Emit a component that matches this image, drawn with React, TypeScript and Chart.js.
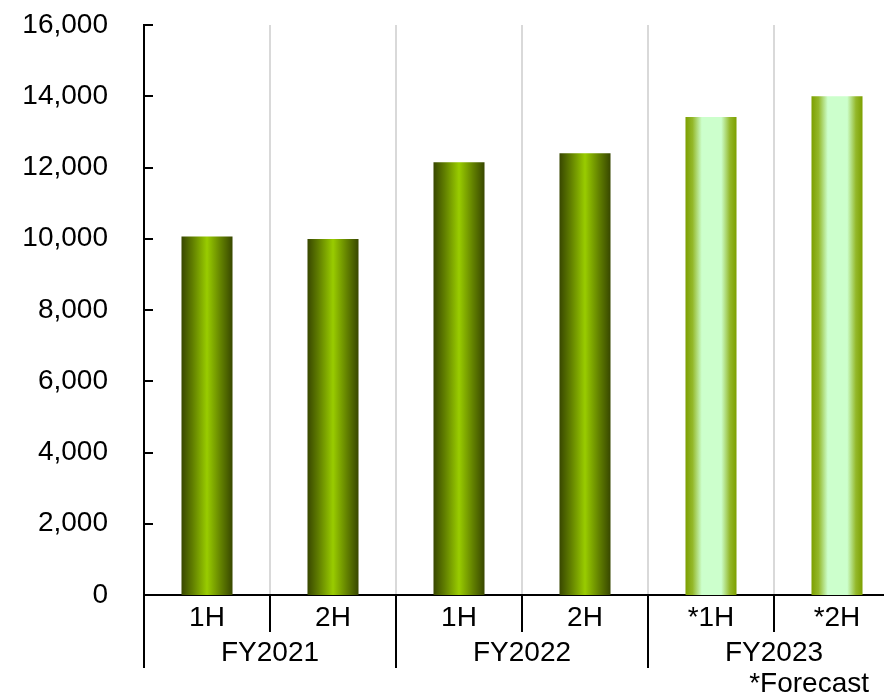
import React, { useEffect, useRef } from "react";
import { Chart, registerables } from "chart.js";

Chart.register(...registerables);

// Half-year categories, their fiscal-year groups and the plotted values
const halfLabels = ["1H", "2H", "1H", "2H", "*1H", "*2H"];
const yearLabels = ["FY2021", "FY2022", "FY2023"];
const netSales = [10060, 9990, 12150, 12400, 13420, 14000];
const isForecast = [false, false, false, false, true, true];
const footnote = "*Forecast";

const Y_MIN = 0;
const Y_MAX = 16000;
const Y_STEP = 2000;

const BAR_PCT = 0.405;
const FONT = '"Liberation Sans", Arial, sans-serif';

const actualStops: [number, string][] = [
  [0, "#384700"],
  [0.22, "#617f00"],
  [0.5, "#99cc00"],
  [0.78, "#617f00"],
  [1, "#384700"],
];
const forecastStops: [number, string][] = [
  [0, "#7c9f00"],
  [0.14, "#94b82a"],
  [0.32, "#ccffcc"],
  [0.7, "#ccffcc"],
  [0.87, "#94b82a"],
  [1, "#7c9f00"],
];

function barFill(ctx: any) {
  const chart = ctx.chart;
  const area = chart.chartArea;
  const xs = chart.scales && chart.scales.x;
  const i = ctx.dataIndex;
  if (!area || !xs || i === undefined) return "#99cc00";
  const cx = xs.getPixelForValue(i);
  const w = ((area.right - area.left) / halfLabels.length) * BAR_PCT;
  const g = chart.ctx.createLinearGradient(cx - w / 2, 0, cx + w / 2, 0);
  const stops = isForecast[i] ? forecastStops : actualStops;
  stops.forEach(([o, c]) => g.addColorStop(o, c));
  return g;
}

// Draws the two-level category axis, inside y ticks and the footnote
const groupedAxis = {
  id: "groupedAxis",
  afterDraw(chart: any) {
    const { ctx, chartArea: a, scales } = chart;
    const y = scales.y;
    const n = halfLabels.length;
    const w = (a.right - a.left) / n;
    ctx.save();
    ctx.strokeStyle = "#000";
    ctx.lineWidth = 2;
    ctx.beginPath();
    y.ticks.forEach((t: any) => {
      const py = Math.round(y.getPixelForValue(t.value));
      ctx.moveTo(a.left, py);
      ctx.lineTo(a.left + 9, py);
    });
    for (let i = 0; i <= n; i++) {
      const bx = Math.round(a.left + i * w);
      const long = i % 2 === 0;
      ctx.moveTo(bx, a.bottom);
      ctx.lineTo(bx, a.bottom + (long ? 73 : 37));
    }
    ctx.stroke();

    ctx.fillStyle = "#000";
    ctx.font = `28px ${FONT}`;
    ctx.textAlign = "center";
    ctx.textBaseline = "middle";
    halfLabels.forEach((lab, i) => {
      ctx.fillText(lab, a.left + (i + 0.5) * w, a.bottom + 23);
    });
    yearLabels.forEach((lab, g) => {
      ctx.fillText(lab, a.left + (g * 2 + 1) * w, a.bottom + 58);
    });
    ctx.textAlign = "right";
    ctx.fillText(footnote, chart.width - 35, a.bottom + 89);
    ctx.restore();
  },
};

export default function App() {
  const ref = useRef<HTMLCanvasElement>(null);

  useEffect(() => {
    if (!ref.current) return;
    const chart = new Chart(ref.current, {
      type: "bar",
      data: {
        labels: halfLabels,
        datasets: [
          {
            data: netSales,
            backgroundColor: barFill,
            borderWidth: 0,
            barPercentage: BAR_PCT,
            categoryPercentage: 1,
          },
        ],
      },
      options: {
        responsive: false,
        animation: false,
        devicePixelRatio: 1,
        layout: { padding: { top: 25, right: 4, left: 0, bottom: 0 } },
        plugins: {
          legend: { display: false },
          tooltip: { enabled: false },
          title: { display: false },
        },
        scales: {
          x: {
            type: "category",
            offset: true,
            grid: {
              display: true,
              offset: true,
              drawTicks: false,
              color: "#d9d9d9",
              lineWidth: 2,
            },
            border: { display: true, color: "#000", width: 2 },
            ticks: { display: false },
            afterFit: (s: any) => {
              s.height = 99;
              s.paddingLeft = 0;
              s.paddingRight = 0;
            },
          },
          y: {
            min: Y_MIN,
            max: Y_MAX,
            grid: { display: false, drawTicks: false },
            border: { display: true, color: "#000", width: 2 },
            ticks: {
              stepSize: Y_STEP,
              padding: 36,
              color: "#000",
              font: { family: FONT, size: 28 },
              callback: (v: any) => Number(v).toLocaleString("en-US"),
            },
            afterFit: (s: any) => {
              s.width = 144;
              s.paddingTop = 0;
              s.paddingBottom = 0;
            },
          },
        },
      },
      plugins: [groupedAxis],
    });
    return () => chart.destroy();
  }, []);

  return (
    <div
      style={{
        position: "fixed",
        left: 0,
        top: 0,
        width: 884,
        height: 694,
        overflow: "hidden",
        background: "#fff",
      }}
    >
      <canvas ref={ref} width={904} height={694} style={{ display: "block" }} />
    </div>
  );
}
